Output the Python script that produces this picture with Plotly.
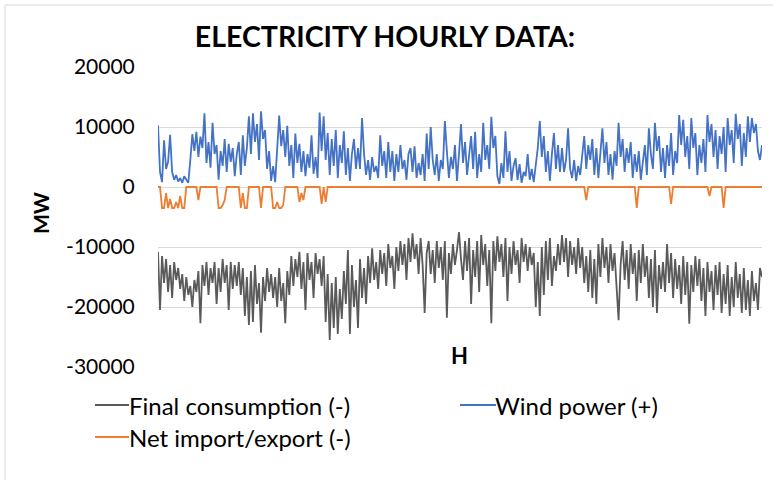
import plotly.graph_objects as go

# Hourly samples (MW)
wind_power = [
    10300, 2500, 800, 7800, 3000, 4200, 8700, 2500, 1200, 2000,
    900, 1500, 700, 1800, 1200, 700, 4500, 8800, 6000, 9200,
    5000, 8400, 6500, 12300, 4000, 7500, 3200, 10700, 5500, 7000,
    1200, 6000, 3500, 8000, 2500, 7200, 4200, 6500, 1800, 5500,
    7500, 2000, 8600, 3500, 6500, 11800, 5500, 12300, 7500, 10500,
    4500, 12600, 8000, 9500, 3000, 6000, 1000, 3500, 800, 5500,
    11900, 6800, 9500, 5000, 10200, 3500, 7000, 1500, 8900, 4000,
    7200, 2500, 6000, 1800, 5500, 3200, 8600, 2200, 5000, 1500,
    12400, 6000, 11800, 4500, 9000, 2000, 8000, 3500, 9500, 1500,
    7000, 4000, 9300, 2000, 6500, 1000, 5500, 8000, 3000, 6500,
    3000, 11500, 5500, 2000, 4500, 1200, 5000, 2500, 3500, 1500,
    8600, 3500, 6000, 1500, 7500, 2500, 6000, 1000, 5500, 2500,
    7000, 3000, 4500, 1200, 5500, 6500, 2500, 6800, 1500, 4000,
    2000, 5500, 1000, 8900, 3000, 10000, 4500, 2000, 5500, 1000,
    4500, 3000, 11000, 6000, 1500, 5000, 3000, 7000, 1000, 5500,
    10500, 4000, 7500, 2000, 5500, 8500, 3000, 9200, 1500, 5500,
    2500, 10700, 4500, 7000, 3000, 11700, 6500, 8500, 1800, 500,
    4000, 1500, 9300, 2500, 6000, 1000, 3500, 4800, 1200, 3800,
    700, 2500, 1800, 5500, 1200, 3000, 800, 4000, 6500, 11000,
    5000, 8500, 2500, 6000, 1000, 5500, 9000, 3000, 7000, 2500,
    6500, 2500, 4500, 9800, 3000, 1500, 4500, 1000, 3500, 2000,
    5500, 8500, 3000, 7000, 4500, 8000, 2000, 6500, 1500, 5000,
    9800, 4000, 7500, 2000, 5500, 1200, 6000, 3500, 10700, 5000,
    8000, 2500, 6500, 4000, 7500, 1500, 5500, 2500, 6000, 1200,
    4500, 7000, 2000, 9800, 5500, 3000, 10700, 6000, 8500, 2500,
    6500, 1500, 7000, 3500, 9000, 2000, 6000, 4000, 12000, 7000,
    11200, 5000, 8500, 3000, 11500, 6500, 9000, 2000, 7000, 4000,
    8000, 2500, 12000, 7500, 10500, 5000, 9500, 3000, 8500, 5500,
    10000, 2500, 11500, 7000, 9500, 4000, 12200, 8000, 10500, 3500,
    9000, 5000, 11800, 7500, 11500, 9000, 10500, 6000, 4500, 7000,
]

final_consumption = [
    -10800, -20500, -11500, -16000, -12000, -17500, -13000, -18500, -12500, -15500,
    -13500, -17000, -14500, -19000, -15000, -18000, -16500, -20000, -15500, -17500,
    -14000, -22700, -13000, -16500, -12500, -18000, -13500, -16000, -12500, -19500,
    -13500, -17500, -12000, -16000, -13000, -20500, -12500, -17000, -13000, -16500,
    -12500, -18000, -13500, -21500, -15000, -23000, -14000, -22500, -13000, -19500,
    -16000, -24300, -15000, -19000, -13500, -17500, -14500, -18500, -15000, -20000,
    -13500, -19000, -16000, -22700, -14000, -18000, -11500, -16500, -12000, -15000,
    -10800, -17000, -12500, -20500, -11000, -15500, -12500, -18500, -11000, -14500,
    -12000, -16500, -11500, -22500, -14500, -25500, -16000, -23500, -15000, -24500,
    -17000, -22000, -14000, -19500, -10500, -24500, -13000, -20000, -15500, -23500,
    -12000, -18500, -13500, -19500, -11500, -16000, -10200, -15500, -12500, -17000,
    -10500, -14500, -11000, -16500, -9500, -13500, -11500, -17000, -10000, -14000,
    -9000, -13000, -9500, -15500, -8500, -12500, -7700, -12000, -9500, -14500,
    -8500, -13000, -21000, -11000, -9000, -14500, -10500, -16000, -9000, -13500,
    -10000, -15500, -9000, -21800, -11000, -14500, -9500, -13000, -10500, -7500,
    -12000, -15500, -9000, -14000, -8500, -19500, -10500, -15000, -9000, -17500,
    -8000, -13000, -9500, -16500, -10500, -22700, -9000, -14000, -8200, -12500,
    -9500, -15000, -8500, -19000, -10000, -14500, -9000, -13000, -10500, -16000,
    -8500, -12500, -9500, -14000, -10000, -13000, -11000, -20000, -12500, -21500,
    -10000, -18000, -9000, -15500, -8500, -16500, -11500, -14000, -9500, -13000,
    -8000, -12500, -8500, -15000, -9000, -13000, -10000, -14500, -8500, -13500,
    -10000, -16000, -11500, -17500, -10500, -18500, -12000, -19500, -9500, -15000,
    -8500, -13500, -10000, -16000, -9500, -14000, -11000, -17500, -22200, -13000,
    -9000, -15500, -10500, -17000, -9500, -14500, -11000, -19000, -10500, -16000,
    -9500, -15000, -11500, -18500, -12000, -20000, -10500, -21000, -13000, -17000,
    -12500, -17500, -9500, -16000, -11000, -18500, -12000, -17000, -13000, -19500,
    -11500, -18000, -12500, -22800, -13000, -17500, -11500, -16500, -12000, -19000,
    -13500, -21500, -12500, -17500, -14000, -20500, -13000, -18000, -12500, -21000,
    -14500, -19500, -13000, -21500, -15000, -20000, -12500, -18500, -14500, -21000,
    -13500, -20500, -15500, -21500, -14000, -19000, -16000, -20500, -13500, -15000,
]

net_import_export = [
    0, 0, -3500, -3500, -1000, -3500, -2000, -3500, -3500, -2500,
    -3500, -1500, -3500, -3500, 0, 0, 0, 0, 0, 0,
    -2200, 0, 0, 0, 0, 0, 0, 0, 0, 0,
    -3500, -3500, -3000, -2200, 0, 0, 0, 0, 0, 0,
    0, -3500, -1000, -3500, -3500, 0, 0, 0, 0, 0,
    0, -3500, 0, 0, 0, 0, 0, -3500, -3500, -2500,
    -3500, -3500, -3000, 0, 0, 0, 0, 0, 0, 0,
    -2500, -1000, -2200, 0, 0, 0, 0, 0, 0, 0,
    0, -2800, 0, -2500, 0, 0, 0, 0, 0, 0,
    0, 0, 0, 0, 0, 0, 0, 0, 0, 0,
    0, 0, 0, 0, 0, 0, 0, 0, 0, 0,
    0, 0, 0, 0, 0, 0, 0, 0, 0, 0,
    0, 0, 0, 0, 0, 0, 0, 0, 0, 0,
    0, 0, 0, 0, 0, 0, 0, 0, 0, 0,
    0, 0, 0, 0, 0, 0, 0, 0, 0, 0,
    0, 0, 0, 0, 0, 0, 0, 0, 0, 0,
    0, 0, 0, 0, 0, 0, 0, 0, 0, 0,
    0, 0, 0, 0, 0, 0, 0, 0, 0, 0,
    0, 0, 0, 0, 0, 0, 0, 0, 0, 0,
    0, 0, 0, 0, 0, 0, 0, 0, 0, 0,
    0, 0, 0, 0, 0, 0, 0, 0, 0, 0,
    0, 0, -2200, 0, 0, 0, 0, 0, 0, 0,
    0, 0, 0, 0, 0, 0, 0, 0, 0, 0,
    0, 0, 0, 0, 0, 0, 0, -3500, 0, 0,
    0, 0, 0, 0, 0, 0, 0, 0, 0, 0,
    0, 0, 0, 0, -2800, 0, 0, 0, 0, 0,
    0, 0, 0, 0, 0, 0, 0, 0, 0, 0,
    0, 0, 0, -1500, 0, 0, 0, 0, 0, 0,
    -3500, 0, 0, 0, 0, 0, 0, 0, 0, 0,
    0, 0, 0, 0, 0, 0, 0, 0, 0, 0,
]

series_names = ["Final consumption (-)", "Wind power (+)", "Net import/export (-)"]
series_colors = ["#5a5a5a", "#4472C4", "#ED7D31"]
hours = list(range(len(wind_power)))
y_ticks = [20000, 10000, 0, -10000, -20000, -30000]

FONT = "Lato"
W, H = 773, 480
L, R, T, B = 158, 11, 67, 113
PW, PH = W - L - R, H - T - B


def px_x(x):  # pixel -> paper x
    return (x - L) / PW


def px_y(y):  # pixel -> paper y
    return (H - B - y) / PH


fig = go.Figure()
for name, vals, col in zip(series_names,
                           [final_consumption, wind_power, net_import_export],
                           series_colors):
    fig.add_trace(go.Scatter(x=hours, y=vals, mode="lines", name=name,
                             line=dict(color=col, width=1.8), showlegend=False))

# manual legend (two columns, two rows)
legend_pos = [(95, 129, 128, 405), (460, 496, 494, 405), (95, 129, 128, 437)]
shapes = []
annotations = []
for (lx0, lx1, tx, ty), name, col in zip(legend_pos, series_names, series_colors):
    shapes.append(dict(type="line", xref="paper", yref="paper",
                       x0=px_x(lx0), x1=px_x(lx1), y0=px_y(ty), y1=px_y(ty),
                       line=dict(color=col, width=1.8)))
    annotations.append(dict(text=name, x=px_x(tx), y=px_y(ty), xref="paper", yref="paper",
                            xanchor="left", yanchor="middle", showarrow=False,
                            borderpad=0,
                            font=dict(size=24, family=FONT, color="#000000")))

annotations += [
    dict(text="<b>MW</b>", x=px_x(40), y=px_y(213), xref="paper", yref="paper",
         xanchor="center", yanchor="middle",
         textangle=-90, showarrow=False, font=dict(size=21, family=FONT, color="#000000")),
    dict(text="<b>H</b>", x=px_x(459), y=0.0, xref="paper", yref="paper",
         xanchor="center", yanchor="bottom", yshift=-4,
         showarrow=False, font=dict(size=22, family=FONT, color="#000000")),
]

# chart-area border (top and left edges visible)
shapes += [
    dict(type="line", xref="paper", yref="paper",
         x0=px_x(5), x1=px_x(5), y0=px_y(5), y1=px_y(480),
         line=dict(color="#d9d9d9", width=1)),
    dict(type="line", xref="paper", yref="paper",
         x0=px_x(5), x1=px_x(773), y0=px_y(5), y1=px_y(5),
         line=dict(color="#d9d9d9", width=1)),
]

fig.update_layout(
    width=W, height=H,
    margin=dict(l=L, r=R, t=T, b=B),
    paper_bgcolor="white", plot_bgcolor="white",
    font=dict(family=FONT, color="#000000"),
    title=dict(text="<b>ELECTRICITY HOURLY DATA:</b>", font=dict(size=28.5, family=FONT),
               x=px_x(385), xref="paper", xanchor="center",
               y=1 - 37 / H, yref="container", yanchor="middle"),
    xaxis=dict(range=[0, len(hours) - 1], showgrid=False, zeroline=False,
               showticklabels=False, showline=False, ticks=""),
    yaxis=dict(range=[-30000, 20000], tickvals=y_ticks,
               ticktext=[str(v) for v in y_ticks],
               showgrid=True, gridcolor="#d9d9d9", gridwidth=1,
               zeroline=False, showline=False,
               ticks="outside", ticklen=18, tickcolor="rgba(0,0,0,0)",
               tickfont=dict(size=21, family=FONT, color="#000000")),
    showlegend=False,
    annotations=annotations,
    shapes=shapes,
)

fig.write_html("out.html")
